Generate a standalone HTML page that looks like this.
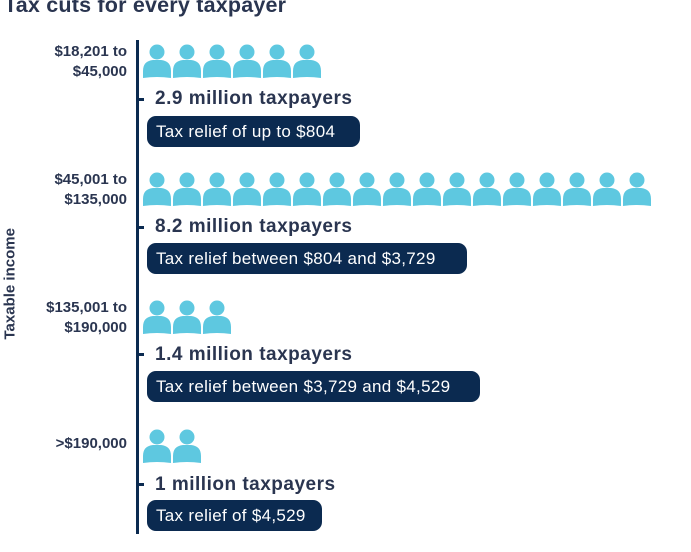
<!DOCTYPE html>
<html><head><style>
body{margin:0;width:691px;height:552px;background:#fff;position:relative;overflow:hidden;font-family:"Liberation Sans",sans-serif;color:#2a3550}
.t{position:absolute;white-space:nowrap}
.title{left:4px;top:-7px;font-size:21.5px;font-weight:bold;letter-spacing:0.2px}
.lab{font-size:15px;font-weight:bold;text-align:right;right:564px;line-height:20px}
.big{font-size:19px;font-weight:bold;left:155px;letter-spacing:0.5px}
.pill{position:absolute;left:147px;height:31px;background:#0b2a50;border-radius:9px;color:#fff;font-size:17px;line-height:31px;padding-left:9px;box-sizing:border-box;letter-spacing:0.3px}
.tick{position:absolute;left:137px;width:7px;height:3px;background:#0b2a50}
</style></head><body>
<div class="t title">Tax cuts for every taxpayer</div>
<div style="position:absolute;left:136px;top:40px;width:3px;height:494px;background:#0b2a50"></div>
<div class="t" style="left:-45px;top:276px;transform:rotate(-90deg);font-size:15px;font-weight:bold;width:110px;text-align:center">Taxable income</div>

<div class="t lab" style="top:42px">$18,201 to<br>$45,000</div>
<div class="t lab" style="top:170px">$45,001 to<br>$135,000</div>
<div class="t lab" style="top:298px">$135,001 to<br>$190,000</div>
<div class="t lab" style="top:434px">&gt;$190,000</div>

<div class="tick" style="top:98px"></div>
<div class="tick" style="top:226px"></div>
<div class="tick" style="top:353px"></div>
<div class="tick" style="top:483px"></div>

<div class="t big" style="top:88px">2.9 million taxpayers</div>
<div class="t big" style="top:216px">8.2 million taxpayers</div>
<div class="t big" style="top:344px">1.4 million taxpayers</div>
<div class="t big" style="top:474px">1 million taxpayers</div>

<div class="pill" style="top:116px;width:213px">Tax relief of up to $804</div>
<div class="pill" style="top:243px;width:320px">Tax relief between $804 and $3,729</div>
<div class="pill" style="top:371px;width:333px">Tax relief between $3,729 and $4,529</div>
<div class="pill" style="top:500px;width:175px">Tax relief of $4,529</div>

<svg width="691" height="552" style="position:absolute;left:0;top:0">
<defs><g id="p" fill="#5ec8e0"><circle cx="14" cy="9" r="7.5"/><path d="M0 35 L0 28 Q0 18 10 17 L18 17 Q28 18 28 28 L28 35 Q14 33 0 35Z"/></g></defs>
</svg>
<script>
const s=document.querySelector('svg');
function row(y,n){for(let i=0;i<n;i++){const u=document.createElementNS('http://www.w3.org/2000/svg','use');u.setAttribute('href','#p');u.setAttribute('x',143+i*30);u.setAttribute('y',y);s.appendChild(u);}}
row(43,6);row(171,17);row(299,3);row(428,2);
</script>
</body></html>
